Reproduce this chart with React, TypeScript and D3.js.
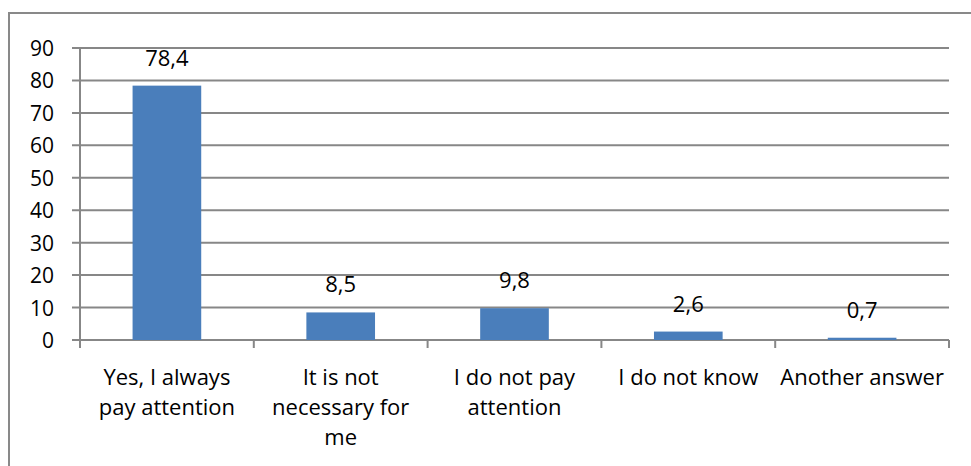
import React from "react";
import * as d3 from "d3";

const categories = [
  ["Yes, I always", "pay attention"],
  ["It is not", "necessary for", "me"],
  ["I do not pay", "attention"],
  ["I do not know"],
  ["Another answer"],
];
const values = [78.4, 8.5, 9.8, 2.6, 0.7];
const valueLabels = ["78,4", "8,5", "9,8", "2,6", "0,7"];
const yTicks = [0, 10, 20, 30, 40, 50, 60, 70, 80, 90];

export default function App() {
  const W = 971, H = 466;
  const left = 80, right = 949, top = 48, bottom = 340;
  const x = d3.scaleBand().domain(categories.map((_, i) => String(i))).range([left, right]).paddingInner(0.605).paddingOuter(0.3025);
  const xb = d3.scaleBand().domain(categories.map((_, i) => String(i))).range([left, right]);
  const y = d3.scaleLinear().domain([0, 90]).range([bottom, top]);
  const grid = "#878787";
  const font = "'Open Sans', Lato, sans-serif";
  return (
    <svg width={W} height={H} style={{ position: "absolute", left: 0, top: 0, background: "#fff" }} fontFamily={font}>
      <rect x={0} y={0} width={W} height={H} fill="#fff" />
      <path d={`M9,${H} V13 H${W + 5}`} fill="none" stroke="#898989" strokeWidth={2} />
      {yTicks.map((t) => (
        <g key={t}>
          <line x1={72} x2={right} y1={y(t)} y2={y(t)} stroke={grid} strokeWidth={2} />
          <text x={54} y={y(t) + 8} textAnchor="end" fontSize={21} fill="#000">{t}</text>
        </g>
      ))}
      <line x1={left} x2={left} y1={top} y2={bottom + 8} stroke={grid} strokeWidth={2} />
      {categories.map((_, i) => (
        <line key={i} x1={xb(String(i))! + xb.bandwidth()} x2={xb(String(i))! + xb.bandwidth()} y1={bottom} y2={bottom + 8} stroke={grid} strokeWidth={2} />
      ))}
      {values.map((v, i) => (
        <rect key={i} x={x(String(i))} y={y(v)} width={x.bandwidth()} height={bottom - y(v)} fill="#4A7EBB" />
      ))}
      {values.map((v, i) => (
        <text key={i} x={x(String(i))! + x.bandwidth() / 2} y={y(v) - 20} textAnchor="middle" fontSize={22} fill="#000">{valueLabels[i]}</text>
      ))}
      {categories.map((lines, i) => (
        <text key={i} x={xb(String(i))! + xb.bandwidth() / 2} y={385} textAnchor="middle" fontSize={22} fill="#000">
          {lines.map((l, j) => (
            <tspan key={j} x={xb(String(i))! + xb.bandwidth() / 2} dy={j === 0 ? 0 : 30}>{l}</tspan>
          ))}
        </text>
      ))}
    </svg>
  );
}
